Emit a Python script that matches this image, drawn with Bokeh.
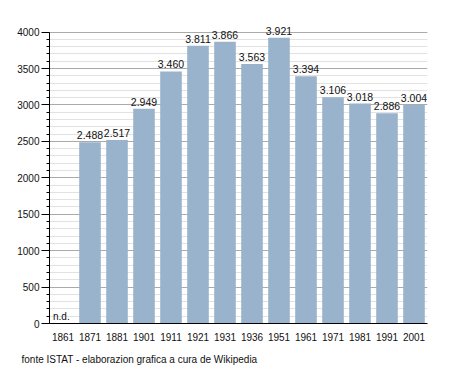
from bokeh.plotting import figure
from bokeh.models import ColumnDataSource, Title, Range1d, FactorRange, SingleIntervalTicker, LabelSet
from bokeh.core.properties import value
from bokeh.embed import file_html
from bokeh.resources import INLINE

years = ["1861", "1871", "1881", "1901", "1911", "1921", "1931", "1936",
         "1951", "1961", "1971", "1981", "1991", "2001"]
population = [0, 2488, 2517, 2949, 3460, 3811, 3866, 3563, 3921, 3394, 3106, 3018, 2886, 3004]
labels = ["", "2.488", "2.517", "2.949", "3.460", "3.811", "3.866", "3.563",
          "3.921", "3.394", "3.106", "3.018", "2.886", "3.004"]
missing_years = ["1861"]
missing_label = ["n.d."]
footer = "fonte ISTAT - elaborazion grafica a cura de Wikipedia"
y_max = 4000

FONT = "Liberation Sans"

src = ColumnDataSource(dict(x=years, y=population, lab=labels))

p = figure(width=447, height=373, x_range=FactorRange(*years, range_padding=0),
           y_range=Range1d(0, 4200), output_backend="svg", toolbar_location=None,
           min_border_left=49, min_border_right=20, min_border_top=17, min_border_bottom=50)
p.outline_line_color = None
p.background_fill_color = "white"

p.vbar(x="x", top="y", width=0.8, source=src, color="#9AB3CC", line_color=None)

ls = LabelSet(x="x", y="y", text="lab", source=src, text_align="center",
              text_baseline="bottom", y_offset=3, text_font_size="10.5px",
              text_font=value(FONT), text_color="#111111")
p.add_layout(ls)

p.text(x=missing_years, y=[0] * len(missing_years), text=missing_label,
       x_offset=-10, y_offset=-2, text_font_size="10px", text_font=value(FONT),
       text_color="#111111", text_baseline="bottom", text_align="left")

# y axis
p.yaxis.ticker = SingleIntervalTicker(interval=500, num_minor_ticks=5)
p.yaxis.bounds = (0, y_max)
p.yaxis.major_tick_out = 8
p.yaxis.major_tick_in = 0
p.yaxis.minor_tick_out = 3
p.yaxis.minor_tick_in = 0
p.yaxis.axis_line_color = "black"
p.yaxis.major_tick_line_color = "black"
p.yaxis.minor_tick_line_color = "black"
p.yaxis.major_label_text_font = FONT
p.yaxis.major_label_text_font_size = "10px"
p.yaxis.major_label_text_color = "#111111"
p.yaxis.major_label_standoff = 2

# x axis
p.xaxis.major_tick_line_color = None
p.xaxis.minor_tick_line_color = None
p.xaxis.axis_line_color = "black"
p.xaxis.major_label_text_font = FONT
p.xaxis.major_label_text_font_size = "10px"
p.xaxis.major_label_text_color = "#111111"
p.xaxis.major_label_standoff = 3

# grids
p.xgrid.grid_line_color = None
p.ygrid.bounds = (0, y_max)
p.ygrid.grid_line_color = "#aaaaaa"
p.ygrid.minor_grid_line_color = "#e2e2e2"

p.add_layout(Title(text=footer, align="left", offset=-28, standoff=17,
                   text_font_size="10px", text_font=FONT, text_color="#111111",
                   text_font_style="normal"), "below")

open("out.html", "w").write(file_html(p, INLINE))
